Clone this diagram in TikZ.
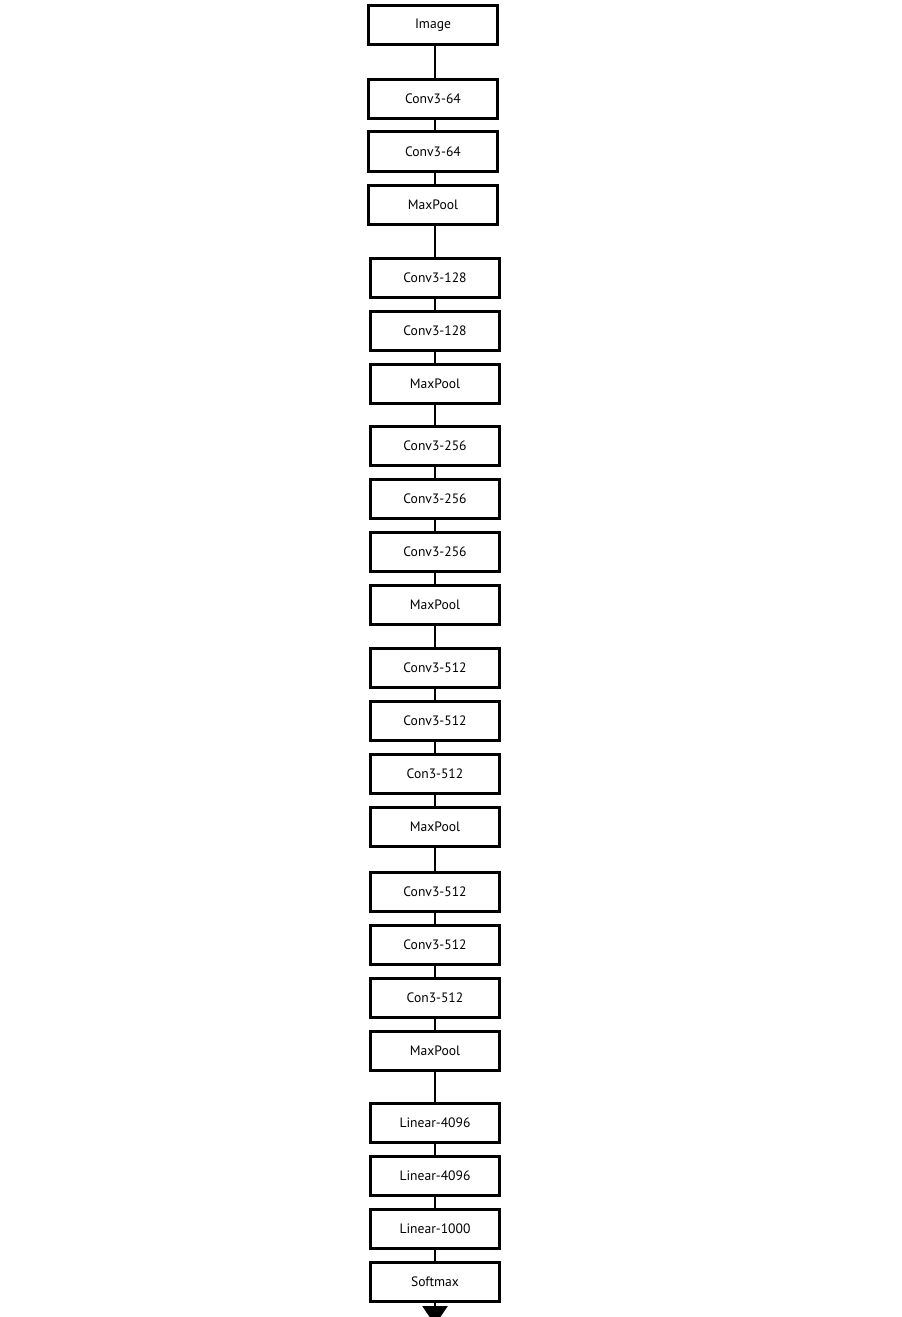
\documentclass[tikz,border=0pt]{standalone}
\usepackage{fontspec}
\setmainfont{PT Sans}
\usetikzlibrary{arrows.meta}
\begin{document}
\begin{tikzpicture}[x=1pt,y=-1pt,
  layer/.style={draw=black, fill=white, line width=2.6pt, minimum width=129.5pt,
    minimum height=39.5pt, inner sep=0pt, font=\fontsize{13.6}{15}\selectfont},
  link/.style={draw=black, line width=2.6pt}]
\fill[white] (0,0) rectangle (902,1317);
\useasboundingbox (0,0) rectangle (902,1317);
\clip (0,0) rectangle (902,1317);
\coordinate (axis) at (435,0);
\coordinate (out) at (435,1325);
% nodes
\node[layer] (img) at (433,25) {Image};
\node[layer] (c1a) at (433,99) {Conv3-64};
\node[layer] (c1b) at (433,151.5) {Conv3-64};
\node[layer] (p1) at (433,205) {MaxPool\hspace{6pt}};
\node[layer] (c2a) at (435,278) {Conv3-128};
\node[layer] (c2b) at (435,331) {Conv3-128};
\node[layer] (p2) at (435,384) {MaxPool\hspace{6pt}};
\node[layer] (c3a) at (435,446) {Conv3-256};
\node[layer] (c3b) at (435,499) {Conv3-256};
\node[layer] (c3c) at (435,552) {Conv3-256};
\node[layer] (p3) at (435,605) {MaxPool\hspace{6pt}};
\node[layer] (c4a) at (435,668) {Conv3-512};
\node[layer] (c4b) at (435,721) {Conv3-512};
\node[layer] (c4c) at (435,774) {Con3-512\hspace{4pt}};
\node[layer] (p4) at (435,827) {MaxPool\hspace{6pt}};
\node[layer] (c5a) at (435,892) {Conv3-512};
\node[layer] (c5b) at (435,945) {Conv3-512};
\node[layer] (c5c) at (435,998) {Con3-512\hspace{4pt}};
\node[layer] (p5) at (435,1051) {MaxPool\hspace{6pt}};
\node[layer] (f1) at (435,1123) {Linear-4096};
\node[layer] (f2) at (435,1176) {Linear-4096};
\node[layer] (f3) at (435,1229) {Linear-1000};
\node[layer] (sm) at (435,1282) {Softmax\hspace{6pt}};
% connectors
\foreach \a/\b in {img/c1a, c1a/c1b, c1b/p1, p1/c2a, c2a/c2b, c2b/p2, p2/c3a,
  c3a/c3b, c3b/c3c, c3c/p3, p3/c4a, c4a/c4b, c4b/c4c, c4c/p4, p4/c5a, c5a/c5b,
  c5b/c5c, c5c/p5, p5/f1, f1/f2, f2/f3, f3/sm}
  \draw[link] (\a.south -| axis) -- (\b.north -| axis);
\draw[link, -{Triangle[length=19pt,width=25pt]}] (sm.south) -- (out);
\end{tikzpicture}
\end{document}
